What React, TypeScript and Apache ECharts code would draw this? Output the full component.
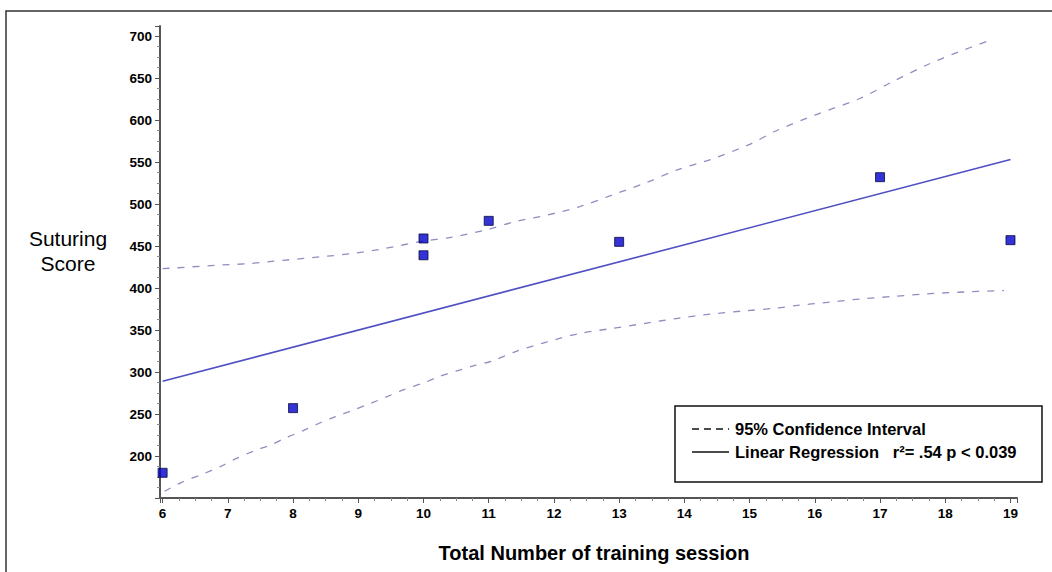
import React, { useEffect, useRef } from "react";
import * as echarts from "echarts";

// ---- data ----
const xTicks = [6, 7, 8, 9, 10, 11, 12, 13, 14, 15, 16, 17, 18, 19];
const yTicks = [200, 250, 300, 350, 400, 450, 500, 550, 600, 650, 700];

const sessions = [6, 8, 10, 10, 11, 13, 17, 19];
const scores = [180, 257, 459, 439, 480, 455, 532, 457];

const regressionX = [6, 19];
const regressionY = [289, 553];

const upperCIX = [6.0, 6.8, 7.3, 7.85, 8.4, 8.9, 9.4, 10.0, 10.4, 11.0, 11.4, 11.9, 12.4, 12.9, 13.4, 13.9, 14.4, 15.0, 15.4, 16.0, 16.7, 17.2, 17.7, 18.2, 18.65];
const upperCIY = [423, 427, 429, 433, 437, 441, 447, 456, 460, 470, 479, 487, 497, 511, 525, 541, 553, 571, 587, 606, 626, 646, 665, 681, 694];

const lowerCIX = [6.03, 6.3, 6.6, 6.9, 7.1, 7.4, 7.65, 7.9, 8.15, 8.4, 8.65, 8.9, 9.2, 9.45, 9.7, 10.0, 10.25, 10.5, 10.75, 11.05, 11.4, 11.9, 12.4, 12.9, 13.4, 13.9, 14.4, 14.95, 15.4, 15.7, 16.2, 16.7, 17.2, 17.7, 18.2, 18.9];
const lowerCIY = [158, 169, 178, 188, 196, 206, 213, 222, 230, 239, 247, 254, 263, 271, 279, 287, 295, 301, 307, 313, 324, 336, 346, 352, 358, 364, 369, 373, 376, 379, 383, 387, 390, 393, 395, 397];

const xTitle = "Total Number of training session";
const yTitleLines = ["Suturing", "Score"];
const legendCI = "95% Confidence Interval";
const legendReg = "Linear Regression   r\u00b2= .54 p < 0.039";

const zip = (a: number[], b: number[]) => a.map((v, i) => [v, b[i]]);

const FONT = "'Liberation Sans', Arial, sans-serif";

export default function App() {
  const ref = useRef<HTMLDivElement>(null);
  useEffect(() => {
    if (!ref.current) return;
    const chart = echarts.init(ref.current, null, { renderer: "svg" });
    const axisColor = "#555555";
    chart.setOption({
      animation: false,
      backgroundColor: "#ffffff",
      grid: { left: 160, right: 35, top: 26, bottom: 74, containLabel: false },
      xAxis: {
        type: "value",
        min: 5.96,
        max: 19.1,
        minInterval: 1,
        maxInterval: 1,
        splitNumber: 13,
        splitLine: { show: false },
        axisLine: { show: true, onZero: false, lineStyle: { color: axisColor, width: 2 } },
        axisTick: { show: true, length: 5, lineStyle: { color: axisColor, width: 1 } },
        minorTick: { show: true, splitNumber: 4, length: 3, lineStyle: { color: "#888", width: 1 } },
        axisLabel: {
          showMinLabel: false,
          showMaxLabel: false,
          margin: 8,
          color: "#000",
          fontFamily: FONT,
          fontWeight: "bold",
          fontSize: 13.5,
          formatter: (v: number) => (xTicks.includes(Math.round(v * 100) / 100) ? String(v) : ""),
        },
      },
      yAxis: {
        type: "value",
        min: 150,
        max: 712,
        interval: 50,
        splitLine: { show: false },
        axisLine: { show: true, onZero: false, lineStyle: { color: axisColor, width: 2 } },
        axisTick: { show: true, length: 5, lineStyle: { color: axisColor, width: 1 } },
        minorTick: { show: true, splitNumber: 4, length: 3, lineStyle: { color: "#888", width: 1 } },
        axisLabel: {
          showMinLabel: false,
          showMaxLabel: false,
          margin: 8,
          color: "#000",
          fontFamily: FONT,
          fontWeight: "bold",
          fontSize: 13.5,
          formatter: (v: number) => (yTicks.includes(v) ? String(v) : ""),
        },
      },
      series: [
        {
          type: "line",
          data: zip(upperCIX, upperCIY),
          showSymbol: false,
          smooth: 0.3,
          lineStyle: { color: "#8e8ec0", width: 1.3, type: [7, 8] },
          z: 2,
        },
        {
          type: "line",
          data: zip(lowerCIX, lowerCIY),
          showSymbol: false,
          smooth: 0.3,
          lineStyle: { color: "#8e8ec0", width: 1.3, type: [7, 8] },
          z: 2,
        },
        {
          type: "line",
          data: zip(regressionX, regressionY),
          showSymbol: false,
          lineStyle: { color: "#4f4fc4", width: 1.6 },
          z: 3,
        },
        {
          type: "scatter",
          data: zip(sessions, scores),
          symbol: "rect",
          symbolSize: 9,
          itemStyle: { color: "#0000cc", borderColor: "#0a0a40", borderWidth: 1 },
          z: 4,
        },
      ],
      graphic: [
        {
          type: "rect",
          shape: { x: 6, y: 11, width: 1060, height: 580 },
          style: { fill: "none", stroke: "#333", lineWidth: 1.5 },
          silent: true,
        },
        {
          type: "text",
          x: 68,
          y: 238,
          style: { text: yTitleLines[0], fontFamily: FONT, fontSize: 21, fill: "#000", align: "center", verticalAlign: "middle" },
        },
        {
          type: "text",
          x: 68,
          y: 263,
          style: { text: yTitleLines[1], fontFamily: FONT, fontSize: 21, fill: "#000", align: "center", verticalAlign: "middle" },
        },
        {
          type: "text",
          x: 594,
          y: 553,
          style: { text: xTitle, fontFamily: FONT, fontSize: 20, fontWeight: "bold", fill: "#000", align: "center", verticalAlign: "middle" },
        },
        {
          type: "rect",
          shape: { x: 675, y: 406, width: 367, height: 76 },
          style: { fill: "#fff", stroke: "#111", lineWidth: 1.5 },
          z: 10,
        },
        {
          type: "line",
          shape: { x1: 692, y1: 429, x2: 729, y2: 429 },
          style: { stroke: "#111", lineWidth: 1.3, lineDash: [7, 5] },
          z: 11,
        },
        {
          type: "line",
          shape: { x1: 692, y1: 452, x2: 729, y2: 452 },
          style: { stroke: "#111", lineWidth: 1.3 },
          z: 11,
        },
        {
          type: "text",
          x: 735,
          y: 429,
          style: { text: legendCI, fontFamily: FONT, fontSize: 16.5, fontWeight: "bold", fill: "#000", align: "left", verticalAlign: "middle" },
          z: 11,
        },
        {
          type: "text",
          x: 735,
          y: 452,
          style: { text: legendReg, fontFamily: FONT, fontSize: 16.5, fontWeight: "bold", fill: "#000", align: "left", verticalAlign: "middle" },
          z: 11,
        },
      ],
    });
    return () => chart.dispose();
  }, []);
  return (
    <div
      ref={ref}
      style={{ position: "fixed", left: 0, top: 0, width: 1052, height: 572 }}
    />
  );
}
